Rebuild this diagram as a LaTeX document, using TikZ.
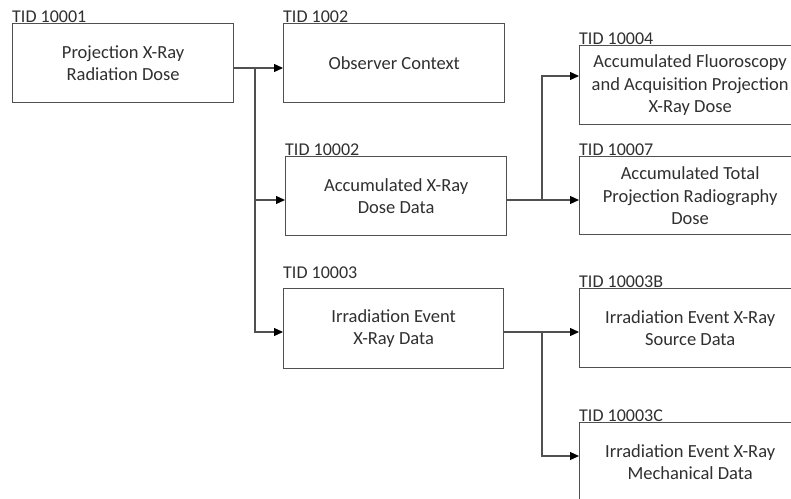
\documentclass[tikz,border=0pt]{standalone}
\usepackage{fontspec}
\setmainfont{Carlito}
\usetikzlibrary{arrows.meta}
\definecolor{linegray}{HTML}{505050}
\definecolor{txtgray}{HTML}{303030}
\begin{document}
\begin{tikzpicture}[x=1pt,y=-1pt,
  box/.style={draw=linegray, line width=1.3pt, minimum width=221pt, minimum height=79pt,
    align=center, text=txtgray, font=\fontsize{18.5}{22.5}\selectfont, inner sep=0pt, anchor=north west},
  lab/.style={anchor=base west, inner sep=0pt, text=txtgray, font=\fontsize{18}{20}\selectfont},
  conn/.style={draw=linegray, line width=1.2pt},
  arr/.style={conn, -{Triangle[length=9pt,width=8pt,color=black]}}]
\useasboundingbox (0,0) rectangle (791,498);
\clip (0,0) rectangle (791,498);
\fill[white] (0,0) rectangle (791,498);
% boxes
\node[box] (A) at (12,23) {Projection X-Ray\\Radiation Dose};
\node[box] (B) at (283,23) {Observer Context};
\node[box] (C) at (285,156) {Accumulated X-Ray\\Dose Data};
\node[box, minimum width=220pt, minimum height=80pt] (D) at (283,288) {Irradiation Event\\X-Ray Data};
\node[box] (E) at (579,45) {Accumulated Fluoroscopy\\and Acquisition Projection\\X-Ray Dose};
\node[box, minimum height=78pt] (F) at (579,156) {Accumulated Total\\Projection Radiography\\Dose};
\node[box] (G) at (579,288) {Irradiation Event X-Ray\\Source Data};
\node[box] (H) at (579,422) {Irradiation Event X-Ray\\Mechanical Data};
% labels
\node[lab, yshift=1pt] (lA) at (A.north west) {TID 10001};
\node[lab, yshift=1pt] (lB) at (B.north west) {TID 1002};
\node[lab, yshift=1pt] (lC) at (C.north west) {TID 10002};
\node[lab, yshift=10pt] (lD) at (D.north west) {TID 10003};
\node[lab, yshift=1pt] (lE) at (E.north west) {TID 10004};
\node[lab, yshift=1pt] (lF) at (F.north west) {TID 10007};
\node[lab, yshift=1pt] (lG) at (G.north west) {TID 10003B};
\node[lab, yshift=1pt] (lH) at (H.north west) {TID 10003C};
% junctions
\coordinate (j1) at (255,68);
\coordinate (j2) at (542,200);
\coordinate (j3) at (542,332);
% connectors
\draw[conn] (A.east |- j1) -- (j1);
\draw[arr] (j1) -- (B.west |- j1);
\draw[arr] (j1) |- (C.west |- 0,200);
\draw[arr] (j1) |- (D.west |- 0,332);
\draw[conn] (C.east |- j2) -- (j2);
\draw[arr] (j2) -- (F.west |- j2);
\draw[arr] (j2) |- (E.west |- 0,76);
\draw[conn] (D.east |- j3) -- (j3);
\draw[arr] (j3) -- (G.west |- j3);
\draw[arr] (j3) |- (H.west |- 0,456);
\end{tikzpicture}
\end{document}
